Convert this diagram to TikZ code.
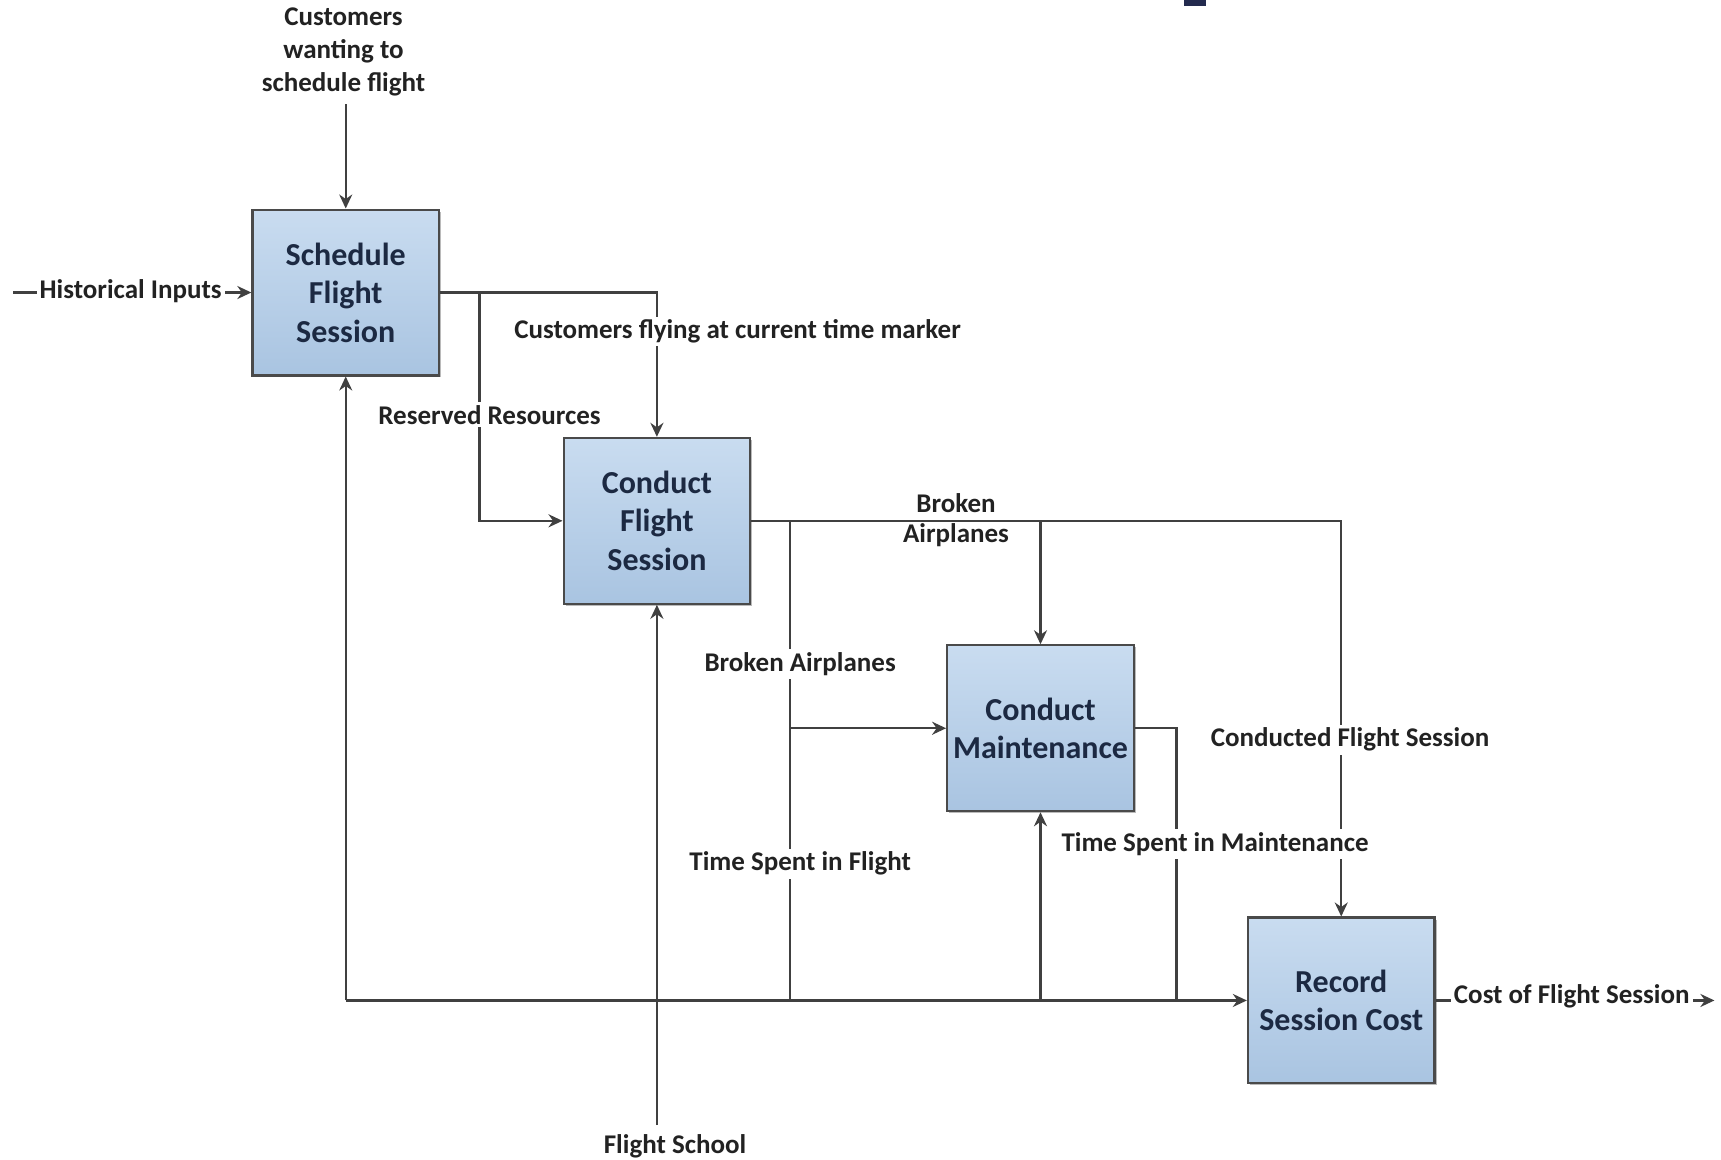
\documentclass[tikz,border=0pt]{standalone}
\usepackage{fontspec}
\setmainfont{Carlito}
\usetikzlibrary{arrows.meta,shadows}
\definecolor{wirecol}{HTML}{404040}
\definecolor{boxedge}{HTML}{4A4A4A}
\definecolor{boxtop}{HTML}{C9DCF0}
\definecolor{boxbot}{HTML}{A9C4E1}
\definecolor{boxtext}{HTML}{1C2942}
\definecolor{lbltext}{HTML}{222222}
\definecolor{markcol}{HTML}{232A4E}
\begin{document}
\begin{tikzpicture}[x=0.5488pt,y=-0.5488pt,
  proc/.style={draw=boxedge, line width=1.1pt, top color=boxtop, bottom color=boxbot,
    minimum width=93.3pt, minimum height=82.9pt, inner sep=0pt, align=center,
    font=\fontsize{16}{19.2}\selectfont\bfseries, text=boxtext,
    drop shadow={shadow xshift=1pt, shadow yshift=-1pt, fill=black!45, opacity=0.6}},
  lbl/.style={font=\fontsize{13.5}{16.5}\selectfont\bfseries, text=lbltext, align=center, inner sep=1pt},
  lblw/.style={lbl, fill=white, inner sep=1.5pt},
  flow/.style={draw=wirecol, line width=1.15pt, -{Stealth[length=7pt,width=6.5pt]}},
  wire/.style={draw=wirecol, line width=1.15pt}]

% canvas
\useasboundingbox (0,0) rectangle (1568,1056);
\fill[white] (0,0) rectangle (1568,1056);
\fill[markcol] (1079,0) rectangle (1099,5.5);

% activity boxes
\node[proc] (sched) at (315,266.5) {Schedule\\Flight\\Session};
\node[proc] (cfs)   at (598.5,474.5) {Conduct\\Flight\\Session};
\node[proc] (maint) at (948,663.5) {Conduct\\Maintenance};
\node[proc] (rsc)   at (1222,911.5) {Record\\Session Cost};

% junction and end points
\coordinate (cwTop)   at (315,95);
\coordinate (hiStart) at (12,266.5);
\coordinate (sJ)      at (437,266.5);
\coordinate (sCorner) at (598.5,266.5);
\coordinate (cJ1)     at (720,474.5);
\coordinate (cJ2)     at (948,474.5);
\coordinate (cCorner) at (1222,474.5);
\coordinate (bJ1)     at (720,911.5);
\coordinate (mCorner) at (1072,663.5);
\coordinate (bJ3)     at (1072,911.5);
\coordinate (bLeft)   at (315,911.5);
\coordinate (fsEnd)   at (598.5,1025);
\coordinate (costEnd) at (1562,911.5);

% inputs to scheduling
\draw[flow] (cwTop) -- (sched.north);
\draw[flow] (hiStart) -- (sched.west);

% scheduling outputs
\draw[flow] (sched.east) -- (sCorner) -- (cfs.north);
\draw[flow] (sJ) |- (cfs.west);

% flight session outputs
\draw[flow] (cfs.east) -- (cCorner) -- (rsc.north);
\draw[flow] (cJ2) -- (maint.north);
\draw[wire] (cJ1) -- (bJ1);
\draw[flow] (cJ1 |- maint.west) -- (maint.west);

% maintenance output
\draw[wire] (maint.east) -- (mCorner) -- (bJ3);

% shared bottom line
\draw[flow] (bLeft) -- (sched.south);
\draw[flow] (bLeft) -- (rsc.west);
\draw[flow] (maint.south |- bLeft) -- (maint.south);

% flight school resource
\draw[flow] (fsEnd) -- (cfs.south);

% final output
\draw[flow] (rsc.east) -- (costEnd);

% labels
\node[lbl]  (lCw)   at (313,47) {Customers\\wanting to\\schedule flight};
\node[lblw] (lHi)   at (119,265) {Historical Inputs};
\node[lblw] (lCf)   at (672,302) {Customers flying at current time marker};
\node[lblw] (lRr)   at (446,378) {Reserved Resources};
\node[lbl]  (lBa1a) at (871,458) {Broken};
\node[lbl]  (lBa1b) at (871,488) {Airplanes};
\node[lblw] (lBa2)  at (729,605) {Broken Airplanes};
\node[lblw] (lCfs)  at (1230,674) {Conducted Flight Session};
\node[lblw] (lTm)   at (1107,769) {Time Spent in Maintenance};
\node[lblw] (lTf)   at (729,787) {Time Spent in Flight};
\node[lblw] (lCost) at (1432,908) {Cost of Flight Session};
\node[lbl]  (lFs)   at (615,1044) {Flight School};
\end{tikzpicture}
\end{document}
